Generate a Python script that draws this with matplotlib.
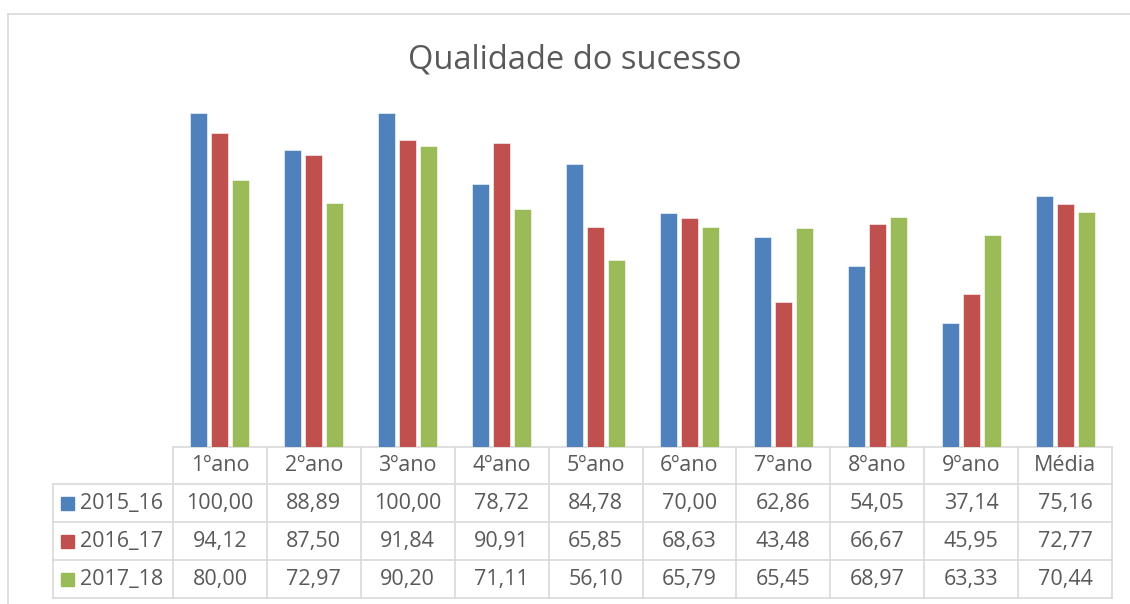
import numpy as np
import matplotlib
matplotlib.use('Agg')
import matplotlib.pyplot as plt
from matplotlib.lines import Line2D
from matplotlib.patches import Rectangle

plt.rcParams['font.family'] = ['Open Sans', 'DejaVu Sans']

# Data
categories = ['1ºano', '2ºano', '3ºano', '4ºano', '5ºano', '6ºano', '7ºano', '8ºano', '9ºano', 'Média']
series_names = ['2015_16', '2016_17', '2017_18']
vals_2015_16 = [100.00, 88.89, 100.00, 78.72, 84.78, 70.00, 62.86, 54.05, 37.14, 75.16]
vals_2016_17 = [94.12, 87.50, 91.84, 90.91, 65.85, 68.63, 43.48, 66.67, 45.95, 72.77]
vals_2017_18 = [80.00, 72.97, 90.20, 71.11, 56.10, 65.79, 65.45, 68.97, 63.33, 70.44]
colors = ['#4F81BD', '#C0504D', '#9BBB59']

series = [vals_2015_16, vals_2016_17, vals_2017_18]

W, H = 1130, 604
fig = plt.figure(figsize=(W / 100, H / 100), dpi=100)

# layout in pixels
tab_left, tab_right = 173, 1112
lab_left = 53
base_y = 447
row_edges = [447, 484, 522, 560, 598]
col_w = (tab_right - tab_left) / len(categories)

def fx(px):
    return px / W

def fy(py):
    return 1 - py / H

# bar axes
ax_top = 80
ax = fig.add_axes([fx(tab_left), fy(base_y), fx(tab_right) - fx(tab_left), fy(ax_top) - fy(base_y)])
px_per_unit = 3.34
ax.set_xlim(-0.5, len(categories) - 0.5)
ax.set_ylim(0, (base_y - ax_top) / px_per_unit)
x = np.arange(len(categories))
offsets = [-0.224, 0, 0.224]
for vals, off, c in zip(series, offsets, colors):
    ax.bar(x + off, vals, width=0.181, color=c, edgecolor='white', linewidth=0.4)
ax.axis('off')

# title
fig.text(fx(575), fy(60), 'Qualidade do sucesso', ha='center', va='center',
         fontsize=23.5, color='#595959')

# overlay for table and frame
ov = fig.add_axes([0, 0, 1, 1], zorder=-1)
ov.set_xlim(0, W)
ov.set_ylim(H, 0)
ov.axis('off')

grid_c = '#d9d9d9'
lw = 1.2
# outer chart frame
ov.add_line(Line2D([8, W], [14, 14], color=grid_c, lw=lw))
ov.add_line(Line2D([8, 8], [14, H], color=grid_c, lw=lw))

# table lines
ov.add_line(Line2D([tab_left, tab_right], [row_edges[0], row_edges[0]], color=grid_c, lw=lw))
for ry in row_edges[1:]:
    ov.add_line(Line2D([lab_left, tab_right], [ry, ry], color=grid_c, lw=lw))
ov.add_line(Line2D([lab_left, lab_left], [row_edges[1], row_edges[-1]], color=grid_c, lw=lw))
for k in range(len(categories) + 1):
    cx = tab_left + k * col_w
    ov.add_line(Line2D([cx, cx], [row_edges[0], row_edges[-1]], color=grid_c, lw=lw))

txt_c = '#595959'
fs = 15.5
# header
for i, cat in enumerate(categories):
    cx = tab_left + (i + 0.5) * col_w
    ov.text(cx, (row_edges[0] + row_edges[1]) / 2, cat, ha='center', va='center',
            fontsize=fs, color=txt_c)

# rows
for r, (name, vals, c) in enumerate(zip(series_names, series, colors)):
    cy = (row_edges[r + 1] + row_edges[r + 2]) / 2
    ov.add_patch(Rectangle((61, cy - 6.5), 13, 13, color=c))
    ov.text(80, cy, name, ha='left', va='center', fontsize=fs, color=txt_c)
    for i, v in enumerate(vals):
        cx = tab_left + (i + 0.5) * col_w
        ov.text(cx, cy, f'{v:.2f}'.replace('.', ','), ha='center', va='center',
                fontsize=fs, color=txt_c)

fig.savefig('out.png', dpi=100)
